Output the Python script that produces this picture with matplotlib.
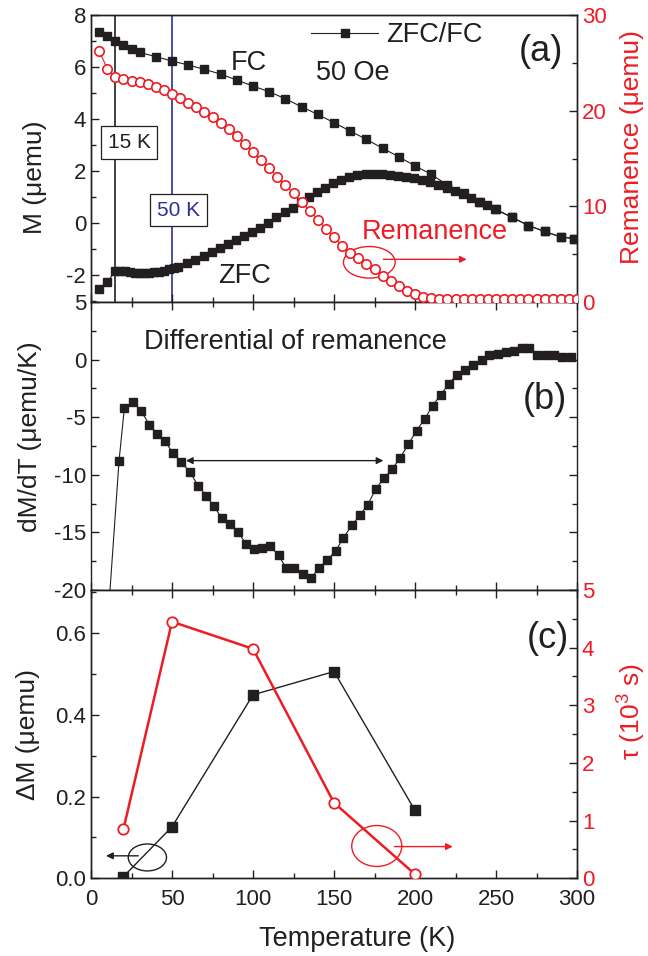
import matplotlib
matplotlib.use('Agg')
import matplotlib.pyplot as plt
from matplotlib.ticker import MultipleLocator, FormatStrFormatter
from matplotlib.patches import Ellipse
from matplotlib.lines import Line2D

plt.rcParams['font.family'] = ['Liberation Sans', 'DejaVu Sans']
plt.rcParams['mathtext.default'] = 'regular'
plt.rcParams['axes.unicode_minus'] = False

K = '#231f20'
RED = '#ed1c24'
BLUE = '#2e3192'

# ---------------- data ----------------
# Panel (a): FC magnetization
fc_T = [5, 10, 15, 20, 25, 30, 40, 50, 60, 70, 80, 90, 100, 110, 120, 130, 140, 150,
        160, 170, 180, 190, 200, 210, 220, 230, 240, 250, 260, 270, 280, 290, 298]
fc_M = [7.36, 7.19, 7.01, 6.83, 6.68, 6.56, 6.40, 6.23, 6.08, 5.91, 5.73, 5.50, 5.27, 5.05,
        4.78, 4.47, 4.18, 3.86, 3.54, 3.22, 2.88, 2.55, 2.20, 1.88, 1.46, 1.17, 0.82, 0.53,
        0.22, -0.09, -0.32, -0.53, -0.59]
# Panel (a): ZFC magnetization
zfc_T = [5, 10, 15, 18, 21, 24, 27, 30, 33, 36, 39, 42, 45, 48, 51, 54, 59.5, 64.5, 69.5,
         74.5, 79.5, 84.5, 89.5, 94.5, 99.5, 104.5, 109.5, 114.5, 119.5, 124.5, 129.5, 134.5,
         139.5, 144.5, 149.5, 154.5, 159.5, 164.5, 169.5, 174.5, 179.5, 184.5, 189.5, 194.5,
         199.5, 204.5, 209.5, 214.5, 219.5, 224.5, 229.5, 234.5, 239.5, 244.5, 249.5, 260,
         270, 280, 290, 298]
zfc_M = [-2.53, -2.26, -1.85, -1.84, -1.85, -1.88, -1.90, -1.92, -1.92, -1.91, -1.89, -1.86,
         -1.82, -1.78, -1.73, -1.68, -1.55, -1.42, -1.27, -1.12, -0.97, -0.82, -0.65, -0.50,
         -0.33, -0.17, 0.02, 0.22, 0.41, 0.60, 0.80, 1.01, 1.20, 1.37, 1.55, 1.67, 1.77, 1.84,
         1.88, 1.90, 1.89, 1.87, 1.83, 1.78, 1.72, 1.66, 1.58, 1.48, 1.37, 1.25, 1.12, 0.96,
         0.82, 0.68, 0.53, 0.22, -0.09, -0.32, -0.53, -0.59]
# Panel (a): remanence
rem_T = [5, 10, 15, 20, 25, 30, 35, 40, 45, 50, 55, 60, 65, 70, 75, 80, 85, 90, 95, 100,
         105, 110, 115, 120, 125, 130, 135, 140, 145, 150, 155, 160, 165, 170, 175, 180, 185,
         190, 195, 200, 205, 210, 215, 220, 225, 230, 235, 240, 245, 250, 255, 260, 265, 270,
         275, 280, 285, 290, 295, 300]
rem_R = [26.27, 24.4, 23.5, 23.3, 23.1, 23.0, 22.75, 22.45, 22.2, 21.75, 21.3, 20.85, 20.4,
         19.9, 19.3, 18.7, 18.05, 17.35, 16.5, 15.7, 14.85, 14.0, 13.1, 12.2, 11.35, 10.45,
         9.55, 8.6, 7.65, 6.75, 5.9, 5.15, 4.55, 4.0, 3.45, 2.75, 2.2, 1.65, 1.2, 0.82, 0.55,
         0.42, 0.35, 0.32, 0.3, 0.3, 0.3, 0.3, 0.3, 0.3, 0.3, 0.3, 0.3, 0.3, 0.3, 0.3, 0.3,
         0.3, 0.3, 0.3]
# Panel (b): differential of remanence
dr_T = [10, 17.3, 20.6, 25.7, 30.9, 36, 40.9, 45.7, 50.6, 55.6, 60.9, 66, 71, 75.7, 80.8,
        85.8, 90.9, 95.7, 100.6, 105.8, 110.5, 115.9, 120.4, 125.6, 130.7, 135.6, 140.7,
        145.8, 151, 155.7, 160.9, 166, 170.8, 175.9, 180.9, 185.8, 190.7, 195.9, 201, 206,
        210.9, 215.9, 221, 225.7, 230.9, 236, 241.2, 245.9, 251, 256.2, 261.3, 265.9, 270.6,
        275.5, 280.7, 285.8, 291, 296.1]
dr_V = [-23.5, -8.8, -4.2, -3.64, -4.45, -5.64, -6.42, -7.08, -8.13, -8.88, -9.72, -10.93,
        -11.8, -12.7, -13.77, -14.3, -15.0, -16.0, -16.43, -16.38, -16.2, -17.0, -18.1, -18.1,
        -18.6, -19.0, -18.1, -17.4, -16.6, -15.5, -14.4, -13.5, -12.6, -11.2, -10.3, -9.5,
        -8.56, -7.35, -6.16, -5.15, -4.0, -3.04, -2.1, -1.3, -0.9, -0.46, 0.0, 0.4, 0.47, 0.64,
        0.78, 1.0, 1.04, 0.43, 0.43, 0.43, 0.2, 0.2]
# Panel (c)
c_T = [20, 50, 100, 150, 200]
c_dM = [0.004, 0.126, 0.449, 0.506, 0.166]
c_tau = [0.85, 4.45, 3.98, 1.31, 0.07]

# ---------------- figure ----------------
fig = plt.figure(figsize=(6.48, 9.56), dpi=100)
L, W = 91 / 648, 486 / 648
axA = fig.add_axes([L, 1 - 302 / 956, W, 287 / 956])
axB = fig.add_axes([L, 1 - 590 / 956, W, 288 / 956])
axC = fig.add_axes([L, 1 - 878.3 / 956, W, 288.3 / 956])

TL = 16
LBL = 19


def style(ax):
    for s in ax.spines.values():
        s.set_color(K)
        s.set_linewidth(1.0)
    ax.tick_params(which='both', direction='in', colors=K, labelsize=TL, width=1.0)
    ax.tick_params(which='major', length=6)
    ax.tick_params(which='minor', length=3.5)
    ax.set_xlim(0, 300)
    ax.xaxis.set_major_locator(MultipleLocator(50))
    ax.xaxis.set_minor_locator(MultipleLocator(25))


def place_ylabel(ax, x, y):
    ax.yaxis.set_label_coords(x, y)
    ax.yaxis.label.set_va('center')
    ax.yaxis.label.set_ha('center')


for ax in (axA, axB, axC):
    style(ax)

# ---- panel (a) ----
axA.axvline(15, color=K, lw=1.2, zorder=1)
axA.axvline(50, color=BLUE, lw=1.2, zorder=1)
axA.plot(zfc_T, zfc_M, '-', color=K, lw=0.8, marker='s', ms=5.4, mfc=K, mec=K, zorder=3)
axA.plot(fc_T, fc_M, '-', color=K, lw=0.8, marker='s', ms=5.4, mfc=K, mec=K, zorder=3)
axA.set_ylim(-3.03, 8)
axA.yaxis.set_major_locator(MultipleLocator(2))
axA.yaxis.set_minor_locator(MultipleLocator(1))
axA.tick_params(axis='x', which='both', top=False, labelbottom=False)
axA.tick_params(axis='y', which='both', right=False)
axA.set_ylabel('M (μemu)', fontsize=LBL, color=K)
place_ylabel(axA, -0.115, 0.436)
axA.text(97.6, 6.17, 'FC', fontsize=19.5, color=K, ha='center', va='center')
axA.text(95, -2.04, 'ZFC', fontsize=19.5, color=K, ha='center', va='center')
axA.text(161.9, 5.79, '50 Oe', fontsize=19.5, color=K, ha='center', va='center')
axA.text(277.5, 6.58, '(a)', fontsize=26, color=K, ha='center', va='center')
axA.text(23.5, 3.10, '15 K', fontsize=15, color=K, ha='center', va='center', zorder=4,
         bbox=dict(boxstyle='square,pad=0.32', fc='white', ec=K, lw=0.9))
axA.text(53.9, 0.5, '50 K', fontsize=15, color=BLUE, ha='center', va='center', zorder=4,
         bbox=dict(boxstyle='square,pad=0.32', fc='white', ec=K, lw=0.9))

axA2 = axA.twinx()
axA2.set_position(axA.get_position())
style(axA2)
axA2.plot(rem_T, rem_R, '-', color=RED, lw=0.8, marker='o', ms=6.8, mfc='white',
          mec=RED, mew=1.2, zorder=3)
axA2.set_ylim(0, 30)
axA2.yaxis.set_major_locator(MultipleLocator(10))
axA2.yaxis.set_minor_locator(MultipleLocator(5))
axA2.tick_params(axis='y', which='both', labelcolor=RED)
axA2.tick_params(axis='x', which='both', top=False, bottom=False, labelbottom=False)
axA2.set_ylabel('Remanence (μemu)', fontsize=LBL, color=RED, rotation=90)
place_ylabel(axA2, 1.113, 0.54)
axA2.text(212.3, 7.35, 'Remanence', fontsize=19.5, color=RED, ha='center', va='center')
axA2.add_patch(Ellipse((171.8, 4.15), 31.9, 3.3, fill=False, ec=RED, lw=1.0))
axA2.annotate('', xy=(231.9, 4.46), xytext=(180.5, 4.46),
              arrowprops=dict(arrowstyle='-|>', color=RED, lw=1.0, mutation_scale=10,
                              shrinkA=0, shrinkB=0))
leg_handle = Line2D([], [], color=K, lw=0.8, marker='s', ms=5.4, mfc=K, mec=K)
axA2.legend([leg_handle], ['ZFC/FC'], loc='center left', bbox_to_anchor=(0.452, 0.93),
            frameon=False, fontsize=19.5, handlelength=2.5, handletextpad=0.3,
            borderpad=0, borderaxespad=0, labelcolor=K)

# ---- panel (b) ----
axB.plot(dr_T, dr_V, '-', color=K, lw=0.8, marker='s', ms=5.4, mfc=K, mec=K, zorder=3)
axB.set_ylim(-20, 5)
axB.yaxis.set_major_locator(MultipleLocator(5))
axB.yaxis.set_minor_locator(MultipleLocator(2.5))
axB.tick_params(axis='x', which='both', top=True, labelbottom=False)
axB.tick_params(axis='y', which='both', right=True, labelright=False)
axB.set_ylabel('dM/dT (μemu/K)', fontsize=LBL, color=K)
place_ylabel(axB, -0.125, 0.531)
axB.text(33, 1.54, 'Differential of remanence', fontsize=19.5, color=K, ha='left',
         va='center')
axB.text(280, -3.5, '(b)', fontsize=26, color=K, ha='center', va='center')
axB.annotate('', xy=(180.5, -8.77), xytext=(58.6, -8.77),
             arrowprops=dict(arrowstyle='<|-|>', color=K, lw=1.0, mutation_scale=10,
                             shrinkA=0, shrinkB=0))

# ---- panel (c) ----
axC.plot(c_T, c_dM, '-', color=K, lw=1.0, marker='s', ms=7, mfc=K, mec=K, zorder=3)
axC.set_ylim(0, 0.7055)
axC.yaxis.set_major_locator(MultipleLocator(0.2))
axC.yaxis.set_minor_locator(MultipleLocator(0.1))
axC.yaxis.set_major_formatter(FormatStrFormatter('%.1f'))
axC.tick_params(axis='x', which='both', top=True)
axC.tick_params(axis='y', which='both', right=False)
axC.tick_params(axis='x', which='major', pad=8)
axC.set_ylabel('ΔM (μemu)', fontsize=LBL, color=K)
place_ylabel(axC, -0.13, 0.5)
axC.set_xlabel('Temperature (K)', fontsize=19.5, color=K)
axC.xaxis.set_label_coords(0.547, -0.165)
axC.text(282, 0.588, '(c)', fontsize=26, color=K, ha='center', va='center')
axC.add_patch(Ellipse((34.8, 0.051), 23.6, 0.066, fill=False, ec=K, lw=1.0))
axC.annotate('', xy=(9.3, 0.055), xytext=(29.2, 0.055),
             arrowprops=dict(arrowstyle='-|>', color=K, lw=1.0, mutation_scale=10,
                             shrinkA=0, shrinkB=0))

axC2 = axC.twinx()
axC2.set_position(axC.get_position())
style(axC2)
axC2.plot(c_T, c_tau, '-', color=RED, lw=1.8, marker='o', ms=7.5, mfc='white', mec=RED,
          mew=1.3, zorder=3)
axC2.set_ylim(0, 5)
axC2.yaxis.set_major_locator(MultipleLocator(1))
axC2.yaxis.set_minor_locator(MultipleLocator(0.5))
axC2.tick_params(axis='y', which='both', labelcolor=RED)
axC2.tick_params(axis='x', which='both', top=False, bottom=False, labelbottom=False)
axC2.set_ylabel('τ ($10^3$ s)', fontsize=LBL, color=RED)
place_ylabel(axC2, 1.113, 0.58)
axC2.add_patch(Ellipse((176.4, 0.56), 30.9, 0.71, fill=False, ec=RED, lw=1.0))
axC2.annotate('', xy=(223.3, 0.55), xytext=(187.2, 0.55),
              arrowprops=dict(arrowstyle='-|>', color=RED, lw=1.0, mutation_scale=10,
                              shrinkA=0, shrinkB=0))

fig.savefig('out.png', dpi=100)
